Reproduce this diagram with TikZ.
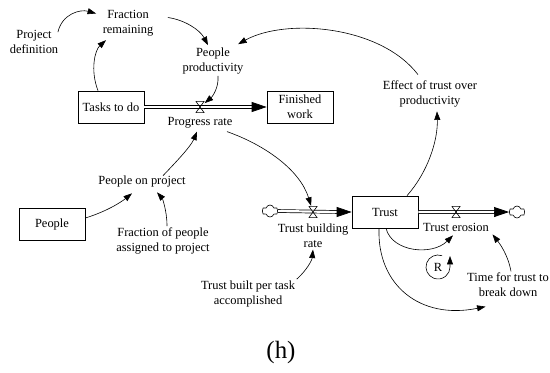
\documentclass[tikz,border=0pt]{standalone}
\usepackage{fontspec}
\setmainfont{Liberation Serif}
\usetikzlibrary{arrows.meta,shapes.symbols}

\begin{document}
\begin{tikzpicture}[x=1bp,y=-1bp,
  font=\fontsize{12.5}{15}\selectfont,
  txt/.style={align=center,inner sep=1.5bp},
  stock/.style={draw,line width=0.7bp,align=center,inner sep=1.5bp,minimum width=66bp,minimum height=32bp},
  link/.style={-{Triangle[length=8.5bp,width=6bp]},line width=0.6bp},
  pipe/.style={line width=0.7bp,double=white,double distance=2.2bp},
  flowtip/.style={-{Triangle[length=15bp,width=10bp]},line width=0.7bp},
  valve/.style={minimum width=9bp,minimum height=12bp,inner sep=0pt,
    path picture={\draw[line width=0.6bp]
      ([shift={(0.4bp,-0.4bp)}]path picture bounding box.north west) --
      ([shift={(-0.4bp,-0.4bp)}]path picture bounding box.north east) --
      ([shift={(0.4bp,0.4bp)}]path picture bounding box.south west) --
      ([shift={(-0.4bp,0.4bp)}]path picture bounding box.south east) -- cycle;}},
  sink/.style={cloud,cloud puffs=6,draw,line width=0.6bp,inner sep=0pt,minimum width=16bp,minimum height=12bp}
]
\useasboundingbox (0,0) rectangle (550,372);

% stocks
\node[stock] (tasks) at (111,107) {Tasks to do};
\node[stock] (fin) at (300,107) {Finished\\work};
\node[stock] (people) at (52,224) {People};
\node[stock] (trust) at (385,212) {Trust};

% auxiliaries
\node[txt] (pdef) at (34,41.5) {Project\\definition};
\node[txt] (frac) at (128,23.5) {Fraction\\remaining};
\node[txt] (pprod) at (213,61) {People\\productivity};
\node[txt] (effect) at (430,93.5) {Effect of trust over\\productivity};
\node[txt] (ponp) at (142,181) {People on project};
\node[txt] (fpeople) at (163,241) {Fraction of people\\assigned to project};
\node[txt] (ttb) at (508,285) {Time for trust to\\break down};
\node[txt] (tbpt) at (248,294) {Trust built per task\\accomplished};

% clouds
\node[sink] (src) at (270,211) {};
\node[sink] (snk) at (517,212) {};

% flow pipes
\draw[pipe] (tasks.east) -- ([xshift=-13bp]fin.west);
\draw[flowtip] ([xshift=-15bp]fin.west) -- (fin.west);
\draw[pipe] (src.east) -- ([xshift=-13bp]trust.west);
\draw[flowtip] ([xshift=-15bp]trust.west) -- (trust.west);
\draw[pipe] (trust.east) -- ([xshift=-13bp]snk.west);
\draw[flowtip] ([xshift=-15bp]snk.west) -- (snk.west);

% valves and rate labels
\node[valve] (pv) at (200,107) {};
\node[txt] (prate) at (200,122.5) {Progress rate};
\node[valve] (tbv) at (313,212) {};
\node[txt] (tbr) at (313,236) {Trust building\\rate};
\node[valve] (tev) at (456,212) {};
\node[txt] (ter) at (456,227.5) {Trust erosion};

% links
\draw[link] ([shift={(-2bp,-4bp)}]pdef.north east) .. controls (62,14) and (80,9) .. ([shift={(-5bp,10bp)}]frac.west);
\draw[link] ([xshift=-13bp]tasks.north) .. controls (90,70) and (95,50) .. ([shift={(-22bp,-2bp)}]frac.south);
\draw[link] ([shift={(13bp,6bp)}]frac.east) .. controls (185,20) and (200,30) .. ([shift={(-5bp,1bp)}]pprod.north);
\draw[link] ([xshift=5bp]pprod.south) .. controls (219,88) and (212,97) .. (pv);
\draw[link] ([shift={(-12bp,4bp)}]effect.north) .. controls (380,25) and (285,18) .. ([shift={(-7bp,2bp)}]pprod.north east);
\draw[link] ([xshift=22bp]trust.north) .. controls (428,172) and (438,140) .. ([shift={(7bp,-3bp)}]effect.south);
\draw[link] ([shift={(-7bp,-2bp)}]prate.south east) .. controls (265,145) and (300,170) .. (tbv);
\draw[link] ([yshift=6bp]people.east) .. controls (105,212) and (120,203) .. ([shift={(-10bp,-5bp)}]ponp.south);
\draw[link] ([xshift=4bp]fpeople.north) .. controls (167,210) and (162,198) .. ([shift={(15bp,-4bp)}]ponp.south);
\draw[link] ([shift={(21bp,-2bp)}]ponp.north) .. controls (178,160) and (191,146) .. ([shift={(-3bp,-2bp)}]prate.south);
\draw[link] ([xshift=1bp]trust.south) .. controls (392,252) and (432,256) .. ([shift={(-3bp,-2bp)}]ter.south);
\draw[link] ([xshift=3bp]ttb.north) .. controls (508,255) and (500,244) .. ([shift={(2bp,-1bp)}]ter.south east);
\draw[link] ([xshift=-6bp]trust.south) .. controls (377,285) and (420,320) .. ([shift={(20bp,-8bp)}]ttb.south west);
\draw[link] (tbpt.north east) .. controls (307,270) and (312,260) .. (tbr.south);

% reinforcing loop marker
\node[txt] (rloop) at (438,267) {R};
\draw[link] ([shift={(4.1bp,11.3bp)}]rloop.center) arc[start angle=70,end angle=360,radius=12bp] -- ++(0bp,11bp);

% caption
\node[txt] (cap) at (281,352) {\fontsize{25}{30}\selectfont (h)};
\end{tikzpicture}
\end{document}
